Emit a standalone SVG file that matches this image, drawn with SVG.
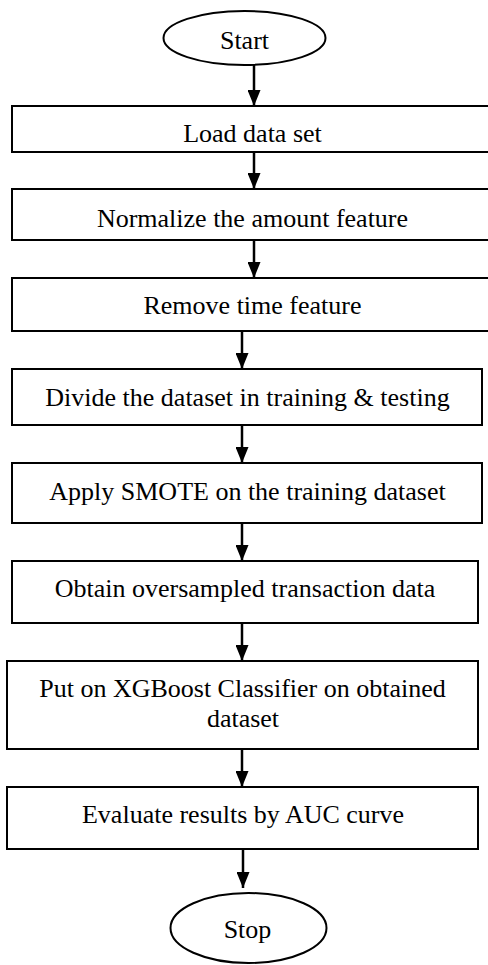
<svg xmlns="http://www.w3.org/2000/svg" width="488" height="965" viewBox="0 0 488 965">
  <style>
    .shape { fill: #ffffff; stroke: #000000; stroke-width: 2; }
    .label { font-family: "Liberation Serif", "Times New Roman", serif; font-size: 26px; fill: #000000; text-anchor: middle; }
    .flow { stroke: #000000; stroke-width: 2.5; fill: none; marker-end: url(#head); }
  </style>
  <defs>
    <!-- solid triangular arrowhead, tip at the end of the line -->
    <marker id="head" markerWidth="16" markerHeight="13" refX="16" refY="6.5" orient="auto" markerUnits="userSpaceOnUse" viewBox="0 0 16 13">
      <path d="M0,0 L16,6.5 L0,13 Z" fill="#000000"/>
    </marker>
  </defs>
  <rect width="488" height="965" fill="#ffffff"/>

  <!-- connectors -->
  <g id="connectors">
    <line class="flow" x1="254" y1="65" x2="254" y2="106"/>
    <line class="flow" x1="254" y1="152" x2="254" y2="189"/>
    <line class="flow" x1="254" y1="240" x2="254" y2="278"/>
    <line class="flow" x1="242" y1="331" x2="242" y2="369"/>
    <line class="flow" x1="242" y1="425" x2="242" y2="463"/>
    <line class="flow" x1="242" y1="523" x2="242" y2="561"/>
    <line class="flow" x1="242" y1="623" x2="242" y2="661"/>
    <line class="flow" x1="242" y1="749" x2="242" y2="787"/>
    <line class="flow" x1="243" y1="849" x2="243" y2="888"/>
  </g>

  <!-- nodes -->
  <g id="start">
    <ellipse class="shape" cx="244.5" cy="38" rx="81" ry="27"/>
    <text class="label" x="244.5" y="49">Start</text>
  </g>
  <g id="load">
    <rect class="shape" x="12" y="106" width="482" height="46"/>
    <text class="label" x="252.5" y="142">Load data set</text>
  </g>
  <g id="normalize">
    <rect class="shape" x="12" y="189" width="482" height="51"/>
    <text class="label" x="252.5" y="227">Normalize the amount feature</text>
  </g>
  <g id="remove-time">
    <rect class="shape" x="12" y="278" width="482" height="53"/>
    <text class="label" x="252.5" y="314">Remove time feature</text>
  </g>
  <g id="split">
    <rect class="shape" x="12" y="369" width="470" height="56"/>
    <text class="label" x="247.5" y="406">Divide the dataset in training &amp; testing</text>
  </g>
  <g id="smote">
    <rect class="shape" x="12" y="463" width="470" height="60"/>
    <text class="label" x="247.5" y="500">Apply SMOTE on the training dataset</text>
  </g>
  <g id="oversampled">
    <rect class="shape" x="12" y="561" width="466" height="62"/>
    <text class="label" x="245" y="597">Obtain oversampled transaction data</text>
  </g>
  <g id="xgboost">
    <rect class="shape" x="7" y="661" width="471" height="88"/>
    <text class="label" x="242.5" y="697">Put on XGBoost Classifier on obtained</text>
    <text class="label" x="243" y="727">dataset</text>
  </g>
  <g id="evaluate">
    <rect class="shape" x="7" y="787" width="471" height="62"/>
    <text class="label" x="243" y="823">Evaluate results by AUC curve</text>
  </g>
  <g id="stop">
    <ellipse class="shape" cx="248.5" cy="928" rx="78" ry="35"/>
    <text class="label" x="247.5" y="938">Stop</text>
  </g>
</svg>
